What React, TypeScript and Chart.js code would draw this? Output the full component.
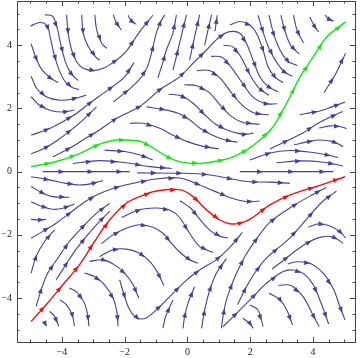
import React, { useEffect, useRef } from 'react';
import { Chart, registerables } from 'chart.js';

Chart.register(...registerables);

type Pt = [number, number];

const X_MIN = -5.43;
const X_MAX = 5.34;
const Y_MIN = -5.39;
const Y_MAX = 5.4;
const MAJOR_TICKS = [-4, -2, 0, 2, 4];
const MINOR_TICKS = [-5, -4.5, -3.5, -3, -2.5, -1.5, -1, -0.5, 0.5, 1, 1.5, 2.5, 3, 3.5, 4.5, 5];

const GREEN_LINE: Pt[] = [
  [-4.98, 0.16], [-4.29, 0.29], [-3.54, 0.53], [-2.8, 0.87], [-2.3, 1.0], [-1.95, 1.0], [-1.45, 0.94],
  [-0.95, 0.66], [-0.6, 0.45], [-0.24, 0.31], [0.39, 0.26], [1.03, 0.35], [1.46, 0.47], [1.88, 0.68],
  [2.31, 1.0], [2.73, 1.42], [3.16, 2.16], [3.59, 3.0], [4.01, 3.63], [4.44, 4.26], [5.04, 4.74],
];

const RED_LINE: Pt[] = [
  [-4.98, -4.74], [-4.5, -4.21], [-3.97, -3.58], [-3.44, -2.95], [-2.96, -2.21], [-2.48, -1.53],
  [-1.95, -1.0], [-1.52, -0.79], [-0.99, -0.61], [-0.24, -0.57], [0.18, -0.79], [0.61, -1.21],
  [1.03, -1.53], [1.35, -1.65], [1.67, -1.63], [2.0, -1.5], [2.63, -1.05], [3.26, -0.74],
  [4.11, -0.47], [5.02, -0.16],
];

const UPPER_LEFT_LINES: Pt[][] = [
  [[-5.0, 4.61], [-4.7, 4.72], [-4.47, 4.62], [-4.38, 4.3], [-4.27, 3.8], [-4.12, 3.3], [-3.93, 2.9], [-3.7, 2.68], [-3.45, 2.6]],
  [[-4.54, 4.96], [-4.3, 4.92], [-4.15, 4.55], [-4.03, 4.0], [-3.88, 3.45], [-3.7, 3.1], [-3.48, 2.88]],
  [[-3.85, 4.96], [-3.8, 4.38], [-3.69, 3.85], [-3.53, 3.48], [-3.32, 3.27], [-3.0, 3.2], [-2.68, 3.27], [-2.26, 3.53],
   [-1.94, 3.82], [-1.52, 4.43], [-1.1, 4.95]],
  [[-3.37, 4.96], [-3.32, 4.38], [-3.16, 3.96], [-2.89, 3.59], [-2.79, 3.53]],
  [[-2.95, 4.96], [-2.89, 4.48], [-2.73, 4.06], [-2.57, 3.9]],
  [[-2.36, 4.96], [-2.26, 4.7], [-2.1, 4.48]],
  [[-1.89, 4.95], [-1.79, 4.77], [-1.63, 4.66]],
  [[-4.98, 4.05], [-4.84, 3.63], [-4.66, 3.26], [-4.39, 2.98], [-4.12, 2.82]],
  [[-4.98, 3.02], [-4.8, 2.63], [-4.5, 2.37], [-4.07, 2.26], [-3.65, 2.3], [-3.22, 2.42]],
  [[-4.98, 2.37], [-4.71, 2.1], [-4.34, 1.93], [-3.91, 1.89], [-3.6, 1.95]],
  [[-4.98, 1.16], [-4.5, 1.32], [-3.97, 1.58], [-3.54, 1.84], [-3.12, 2.16], [-2.69, 2.47], [-2.37, 2.7], [-2.0, 3.0], [-1.7, 3.45]],
  [[-4.98, 0.56], [-4.55, 0.74], [-4.13, 1.0], [-3.7, 1.32], [-3.28, 1.68], [-2.9, 2.05]],
  [[-4.29, 0.47], [-3.76, 0.74], [-3.33, 1.0], [-2.8, 1.32], [-2.27, 1.68], [-1.52, 2.06], [-0.88, 2.59], [-0.25, 3.0],
   [0.18, 3.43], [0.61, 3.85], [1.03, 4.27], [1.35, 4.43], [1.67, 4.38], [1.88, 4.06], [2.09, 3.53], [2.31, 3.0],
   [2.57, 2.69], [2.9, 2.52]],
  [[-2.37, 2.2], [-1.84, 2.62], [-1.5, 2.95], [-1.28, 3.3], [-1.12, 3.85], [-0.99, 4.39], [-0.85, 4.75], [-0.72, 4.96]],
  [[-0.94, 2.97], [-0.8, 3.4], [-0.67, 3.85], [-0.46, 4.39], [-0.35, 4.96]],
  [[-0.46, 3.22], [-0.35, 3.65], [-0.25, 4.07], [-0.03, 4.96]],
  [[0.07, 3.53], [0.23, 4.27], [0.39, 4.96]],
  [[0.55, 4.0], [0.66, 4.5], [0.77, 4.96]],
  [[-1.3, 2.05], [-0.78, 1.97], [-0.3, 1.85], [0.07, 1.64], [0.39, 1.38], [0.8, 1.15], [1.2, 1.0], [1.6, 0.93]],
  [[-1.84, 1.53], [-1.41, 1.53], [-0.88, 1.37], [-0.46, 1.15], [0.0, 0.95], [0.5, 0.8], [1.0, 0.72]],
  [[-3.65, 0.26], [-2.8, 0.35], [-1.95, 0.28], [-1.2, 0.16], [-0.5, 0.1]],
  [[-2.64, 0.68], [-1.95, 0.63], [-1.52, 0.53], [-1.1, 0.37]],
  [[-4.61, 0.0], [-1.84, 0.0]],
];

const UPPER_RIGHT_LINES: Pt[][] = [
  [[0.88, 4.45], [0.95, 4.95]],
  [[1.35, 4.64], [1.67, 4.75], [1.99, 4.64], [2.2, 4.38], [2.41, 3.85], [2.57, 3.32], [2.8, 2.98], [3.05, 2.82]],
  [[2.25, 4.95], [2.4, 4.45], [2.6, 3.9], [2.85, 3.45], [3.1, 3.15], [3.35, 3.02]],
  [[2.6, 4.95], [2.75, 4.35], [2.95, 3.85], [3.2, 3.5], [3.5, 3.35]],
  [[2.98, 4.95], [3.1, 4.47], [3.3, 3.98], [3.57, 3.72]],
  [[3.38, 4.95], [3.5, 4.45], [3.7, 4.08]],
  [[3.9, 4.89], [4.05, 4.6], [4.18, 4.42]],
  [[4.38, 4.95], [4.52, 4.82], [4.66, 4.76]],
  [[-0.6, 2.45], [-0.2, 2.4], [0.2, 2.15], [0.55, 1.8], [0.9, 1.5], [1.3, 1.3], [1.8, 1.18], [2.1, 1.22]],
  [[-0.1, 2.75], [0.3, 2.72], [0.7, 2.5], [1.05, 2.1], [1.4, 1.75], [1.8, 1.55], [2.3, 1.5]],
  [[0.3, 3.2], [0.7, 3.2], [1.05, 2.95], [1.4, 2.5], [1.75, 2.1], [2.15, 1.85], [2.6, 1.8]],
  [[0.75, 3.65], [1.1, 3.62], [1.4, 3.3], [1.75, 2.8], [2.1, 2.35], [2.5, 2.15], [2.85, 2.15]],
  [[1.15, 4.0], [1.45, 3.95], [1.72, 3.6], [2.0, 3.05], [2.3, 2.62], [2.6, 2.42]],
  [[1.99, 0.37], [2.63, 0.59], [3.26, 0.67], [3.8, 0.63], [4.3, 0.56], [4.8, 0.45]],
  [[2.84, 0.28], [3.58, 0.34], [4.33, 0.3], [4.95, 0.18]],
  [[2.63, 0.72], [3.16, 0.97], [3.69, 1.23], [4.11, 1.5], [4.54, 1.72], [4.95, 1.9]],
  [[3.4, 0.85], [3.85, 0.95], [4.22, 1.0], [4.64, 0.95], [4.96, 0.79]],
  [[4.2, 1.38], [4.55, 1.45], [4.86, 1.43], [5.07, 1.36]],
  [[3.58, 1.8], [3.9, 1.86], [4.22, 1.92], [4.6, 2.05], [5.02, 2.2]],
  [[4.35, 2.5], [4.7, 3.05], [5.04, 3.75]],
  [[1.67, 0.0], [4.65, 0.0]],
];

const LOWER_LEFT_LINES: Pt[][] = [
  [[-4.98, -0.16], [-4.39, -0.26], [-3.86, -0.37], [-3.44, -0.42], [-3.01, -0.37], [-2.69, -0.28]],
  [[-4.98, -0.47], [-4.61, -0.68], [-4.29, -0.79], [-3.76, -0.81]],
  [[-4.98, -0.95], [-4.61, -1.11], [-4.29, -1.19], [-3.97, -1.16], [-3.6, -1.02]],
  [[-4.98, -1.51], [-4.71, -1.53], [-4.5, -1.51]],
  [[-4.98, -2.11], [-4.61, -1.89], [-4.18, -1.63], [-3.76, -1.32], [-3.33, -1.0], [-2.9, -0.74], [-2.37, -0.53],
   [-1.73, -0.37], [-0.99, -0.23], [-0.24, -0.2], [0.29, -0.38], [0.82, -0.6], [1.35, -0.82], [1.88, -0.95], [2.3, -0.93]],
  [[-4.98, -3.21], [-4.82, -2.68], [-4.55, -2.21], [-4.23, -1.84]],
  [[-4.82, -4.26], [-4.66, -3.74], [-4.45, -3.21], [-4.13, -2.74], [-3.76, -2.21], [-3.33, -1.74], [-2.9, -1.32], [-2.48, -1.0]],
  [[-4.18, -3.42], [-3.91, -3.0], [-3.6, -2.53], [-3.22, -2.05], [-2.85, -1.63], [-2.48, -1.26]],
  [[-1.6, -0.04], [-0.24, -0.05], [0.61, -0.09], [1.46, -0.24], [1.99, -0.32], [2.63, -0.33], [3.26, -0.37]],
  [[-2.74, -2.28], [-2.37, -2.0], [-1.95, -1.79], [-1.52, -1.68], [-1.1, -1.76], [-0.78, -1.95], [-0.51, -2.26],
   [-0.24, -2.55], [0.07, -2.79], [0.34, -2.9]],
  [[-2.1, -1.45], [-1.5, -1.2], [-1.0, -1.15], [-0.55, -1.22], [-0.25, -1.45], [0.07, -1.95], [0.39, -2.37], [0.82, -2.56]],
  [[-2.8, -2.69], [-2.37, -2.47], [-1.95, -2.45], [-1.52, -2.58], [-1.2, -2.84], [-0.94, -3.21], [-0.75, -3.6]],
  [[-3.12, -2.84], [-2.69, -2.79], [-2.32, -2.95], [-2.0, -3.21], [-1.73, -3.58], [-1.55, -4.0]],
  [[-3.28, -3.21], [-2.96, -3.32], [-2.64, -3.58], [-2.37, -4.0], [-2.24, -4.47], [-2.21, -4.89]],
  [[-3.76, -3.68], [-3.49, -3.84], [-3.28, -4.16], [-3.17, -4.58], [-3.14, -4.89]],
  [[-4.07, -4.05], [-3.86, -4.21], [-3.67, -4.53], [-3.6, -4.89]],
  [[-4.39, -4.42], [-4.23, -4.58], [-4.1, -4.89]],
  [[-4.57, -4.74], [-4.5, -4.87]],
  [[-2.16, -3.42], [-2.0, -3.95], [-1.84, -4.37], [-1.6, -4.63], [-1.3, -4.62], [-0.88, -4.27], [-0.46, -3.85],
   [-0.03, -3.43], [0.39, -3.11], [0.92, -2.79], [1.3, -2.45], [1.56, -2.16], [1.75, -1.92]],
  [[-0.78, -4.95], [-0.7, -4.6], [-0.56, -4.27], [-0.46, -4.06]],
];

const LOWER_RIGHT_LINES: Pt[][] = [
  [[-0.24, -0.92], [0.1, -1.15], [0.39, -1.5], [0.71, -1.85], [1.03, -2.04], [1.3, -2.1]],
  [[-0.14, -4.96], [-0.09, -4.59], [0.02, -4.16], [0.23, -3.64]],
  [[0.45, -4.96], [0.55, -4.38], [0.71, -3.75], [0.92, -3.22], [1.24, -2.75]],
  [[1.08, -4.96], [1.19, -4.27], [1.35, -3.74], [1.56, -3.22], [1.85, -2.65], [2.15, -2.2], [2.63, -1.6],
   [3.26, -1.15], [4.0, -0.72], [4.43, -0.5]],
  [[1.6, -4.2], [1.85, -3.7], [2.15, -3.2], [2.5, -2.75], [2.85, -2.45], [3.26, -2.1], [3.8, -1.5], [4.33, -0.92], [4.75, -0.62]],
  [[1.14, -4.9], [1.67, -4.38], [2.09, -3.96], [2.52, -3.53], [3.05, -3.16], [3.37, -3.11], [3.69, -3.22], [4.01, -3.58],
   [4.22, -4.06], [4.38, -4.48], [4.5, -4.82]],
  [[2.7, -3.08], [2.94, -2.9], [3.48, -2.48], [3.9, -2.21], [4.22, -2.08], [4.64, -2.06], [4.96, -2.27]],
  [[3.2, -2.92], [3.5, -2.85], [3.9, -2.9], [4.33, -3.22], [4.64, -3.69], [4.86, -4.27], [5.02, -4.69]],
  [[3.85, -1.75], [4.2, -1.65], [4.54, -1.72], [4.86, -1.9], [5.04, -2.1]],
  [[2.9, -3.6], [3.3, -3.6], [3.69, -3.96], [4.01, -4.55], [4.2, -4.9]],
  [[2.6, -3.85], [2.95, -4.05], [3.2, -4.45], [3.35, -4.85]],
  [[2.0, -4.22], [2.25, -4.38], [2.41, -4.9]],
  [[1.77, -4.64], [1.99, -4.8], [2.09, -4.96]],
];

const STREAM_COLOR = 'rgb(66,66,152)';
const GREEN_COLOR = 'rgb(20,230,20)';
const RED_COLOR = 'rgb(235,20,20)';
const FRAME_COLOR = '#444';
const ARROW_SPACING = 27;

const fmt = (v: number) => (v < 0 ? '\u2212' + Math.abs(v) : String(v));

const toData = (line: Pt[]) => line.map(([x, y]) => ({ x, y }));

const arrowPlugin = {
  id: 'streamArrows',
  afterDatasetsDraw(chart: any) {
    const ctx = chart.ctx as CanvasRenderingContext2D;
    chart.data.datasets.forEach((ds: any, i: number) => {
      const meta = chart.getDatasetMeta(i);
      const pts = meta.data.map((p: any) => ({ x: p.x, y: p.y }));
      if (pts.length < 2) return;
      const cum = [0];
      let total = 0;
      for (let k = 1; k < pts.length; k++) {
        total += Math.hypot(pts[k].x - pts[k - 1].x, pts[k].y - pts[k - 1].y);
        cum.push(total);
      }
      const n = Math.max(1, Math.round(total / ARROW_SPACING));
      ctx.save();
      ctx.fillStyle = ds.borderColor;
      for (let a = 0; a < n; a++) {
        const s = ((a + 0.65) * total) / n;
        let k = 1;
        while (k < cum.length - 1 && cum[k] < s) k++;
        const seg = cum[k] - cum[k - 1];
        const t = seg > 0 ? (s - cum[k - 1]) / seg : 0;
        const dx = pts[k].x - pts[k - 1].x;
        const dy = pts[k].y - pts[k - 1].y;
        const x = pts[k - 1].x + t * dx;
        const y = pts[k - 1].y + t * dy;
        const ang = Math.atan2(dy, dx);
        const L = 6;
        const W = 2.4;
        const c = Math.cos(ang);
        const sn = Math.sin(ang);
        ctx.beginPath();
        ctx.moveTo(x + c * L * 0.5, y + sn * L * 0.5);
        ctx.lineTo(x - c * L * 0.5 - sn * W, y - sn * L * 0.5 + c * W);
        ctx.lineTo(x - c * L * 0.5 + sn * W, y - sn * L * 0.5 - c * W);
        ctx.closePath();
        ctx.fill();
      }
      ctx.restore();
    });
  },
};

const framePlugin = {
  id: 'frameTicks',
  afterDraw(chart: any) {
    const ctx = chart.ctx as CanvasRenderingContext2D;
    const { left, right, top, bottom } = chart.chartArea;
    const xs = chart.scales.x;
    const ys = chart.scales.y;
    ctx.save();
    ctx.strokeStyle = FRAME_COLOR;
    ctx.lineWidth = 1;
    ctx.strokeRect(Math.round(left) + 0.5, Math.round(top) + 0.5, Math.round(right - left), Math.round(bottom - top));
    const drawX = (v: number, len: number) => {
      const px = Math.round(xs.getPixelForValue(v)) + 0.5;
      ctx.beginPath();
      ctx.moveTo(px, bottom);
      ctx.lineTo(px, bottom - len);
      ctx.moveTo(px, top);
      ctx.lineTo(px, top + len);
      ctx.stroke();
    };
    const drawY = (v: number, len: number) => {
      const py = Math.round(ys.getPixelForValue(v)) + 0.5;
      ctx.beginPath();
      ctx.moveTo(left, py);
      ctx.lineTo(left + len, py);
      ctx.moveTo(right, py);
      ctx.lineTo(right - len, py);
      ctx.stroke();
    };
    MAJOR_TICKS.forEach((v) => { drawX(v, 5); drawY(v, 5); });
    MINOR_TICKS.forEach((v) => { drawX(v, 2.5); drawY(v, 2.5); });
    ctx.restore();
  },
};

export default function App() {
  const ref = useRef<HTMLCanvasElement | null>(null);

  useEffect(() => {
    if (!ref.current) return;
    const datasets: any[] = [];
    const addLines = (lines: Pt[][]) =>
      lines.forEach((l) =>
        datasets.push({
          data: toData(l),
          borderColor: STREAM_COLOR,
          borderWidth: 1.1,
          showLine: true,
          pointRadius: 0,
          tension: 0.35,
          fill: false,
        })
      );
    addLines(UPPER_LEFT_LINES);
    addLines(UPPER_RIGHT_LINES);
    addLines(LOWER_LEFT_LINES);
    addLines(LOWER_RIGHT_LINES);
    datasets.push({ data: toData(GREEN_LINE), borderColor: GREEN_COLOR, borderWidth: 1.4, showLine: true, pointRadius: 0, tension: 0.35, fill: false });
    datasets.push({ data: toData(RED_LINE), borderColor: RED_COLOR, borderWidth: 1.4, showLine: true, pointRadius: 0, tension: 0.35, fill: false });

    const tickFont = { family: '"Liberation Serif", "DejaVu Serif", serif', size: 10 };
    const chart = new Chart(ref.current, {
      type: 'scatter',
      data: { datasets },
      options: {
        animation: false,
        responsive: false,
        devicePixelRatio: 1,
        layout: { padding: { top: 1, right: 5, left: 0, bottom: 0 } },
        plugins: { legend: { display: false }, tooltip: { enabled: false } },
        scales: {
          x: {
            type: 'linear',
            min: X_MIN,
            max: X_MAX,
            afterBuildTicks: (s: any) => { s.ticks = MAJOR_TICKS.map((v) => ({ value: v })); },
            afterFit: (s: any) => { s.height = 16; s.paddingLeft = 0; s.paddingRight = 0; },
            grid: { display: false, drawTicks: false, tickLength: 0 },
            border: { display: false },
            ticks: { callback: (v: any) => fmt(Number(v)), font: tickFont, color: '#222', padding: 4, maxRotation: 0, autoSkip: false },
          },
          y: {
            type: 'linear',
            min: Y_MIN,
            max: Y_MAX,
            afterBuildTicks: (s: any) => { s.ticks = MAJOR_TICKS.map((v) => ({ value: v })); },
            afterFit: (s: any) => { s.width = 17; s.paddingTop = 0; s.paddingBottom = 0; },
            grid: { display: false, drawTicks: false, tickLength: 0 },
            border: { display: false },
            ticks: { callback: (v: any) => fmt(Number(v)), font: tickFont, color: '#222', padding: 5, autoSkip: false },
          },
        },
      },
      plugins: [arrowPlugin, framePlugin],
    } as any);
    return () => chart.destroy();
  }, []);

  return (
    <div style={{ position: 'fixed', left: 0, top: 0, width: 360, height: 358, background: '#fff' }}>
      <canvas ref={ref} width={360} height={358} style={{ display: 'block' }} />
    </div>
  );
}
